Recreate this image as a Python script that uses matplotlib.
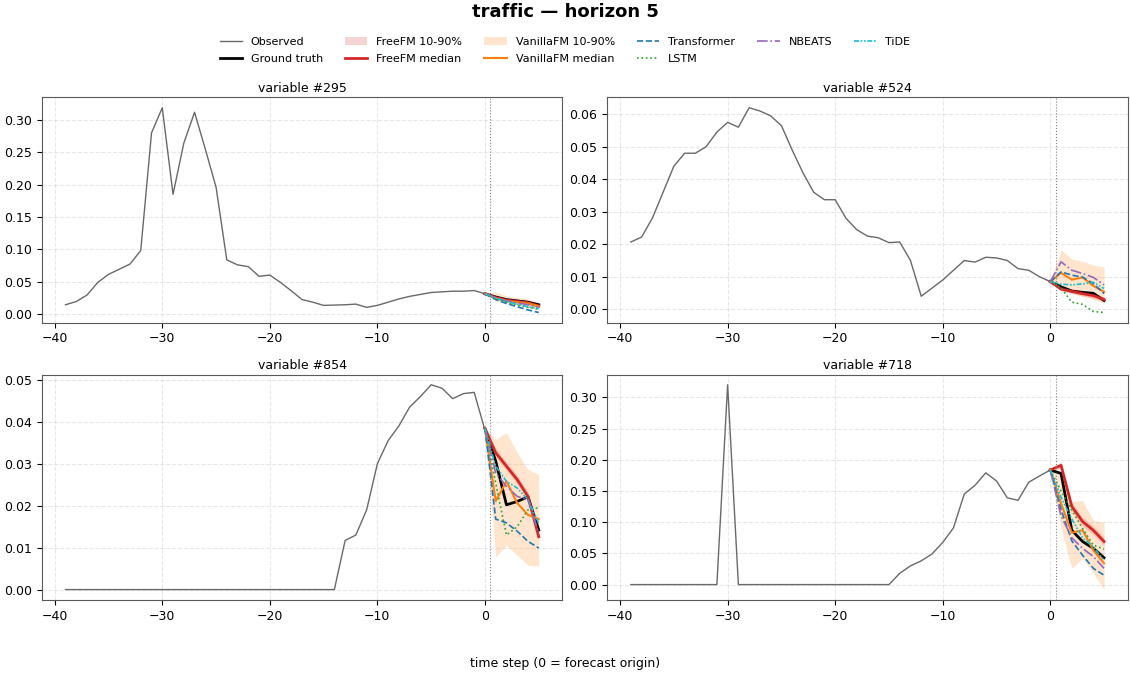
import matplotlib
matplotlib.use("Agg")
import matplotlib.pyplot as plt
import numpy as np

# time axes
t_obs = np.arange(-39, 1)
t_fc = np.arange(0, 6)

# ---- variable #295
obs_295 = [0.014, 0.019, 0.029, 0.0485, 0.061, 0.069, 0.077, 0.098, 0.280, 0.319,
           0.185, 0.264, 0.312, 0.255, 0.196, 0.0835, 0.0757, 0.073, 0.058, 0.060,
           0.0485, 0.0355, 0.022, 0.018, 0.013, 0.0135, 0.014, 0.015, 0.010, 0.013,
           0.018, 0.023, 0.027, 0.030, 0.033, 0.034, 0.035, 0.035, 0.036, 0.031]
gt_295 = [0.031, 0.026, 0.022, 0.020, 0.018, 0.014]
free_med_295 = [0.031, 0.025, 0.021, 0.019, 0.017, 0.012]
free_lo_295 = [0.031, 0.023, 0.019, 0.017, 0.015, 0.010]
free_hi_295 = [0.031, 0.027, 0.023, 0.021, 0.019, 0.014]
van_med_295 = [0.031, 0.024, 0.020, 0.018, 0.016, 0.012]
van_lo_295 = [0.031, 0.020, 0.016, 0.013, 0.010, 0.008]
van_hi_295 = [0.031, 0.034, 0.028, 0.025, 0.023, 0.018]
trans_295 = [0.031, 0.022, 0.016, 0.011, 0.006, 0.002]
lstm_295 = [0.031, 0.023, 0.018, 0.014, 0.010, 0.007]
nbeats_295 = [0.031, 0.025, 0.020, 0.017, 0.014, 0.010]
tide_295 = [0.031, 0.024, 0.019, 0.015, 0.011, 0.008]

# ---- variable #524
obs_524 = [0.0207, 0.0222, 0.028, 0.036, 0.044, 0.048, 0.048, 0.050, 0.0545, 0.0575,
           0.056, 0.062, 0.061, 0.0595, 0.0565, 0.049, 0.042, 0.036, 0.0337, 0.0337,
           0.028, 0.0245, 0.0225, 0.022, 0.0205, 0.0207, 0.015, 0.004, 0.0065, 0.009,
           0.012, 0.015, 0.0145, 0.016, 0.0158, 0.015, 0.0125, 0.012, 0.010, 0.0085]
gt_524 = [0.0085, 0.0069, 0.0056, 0.0052, 0.0049, 0.0027]
free_med_524 = [0.0085, 0.0062, 0.0055, 0.0048, 0.0042, 0.0030]
free_lo_524 = [0.0085, 0.0056, 0.0048, 0.0041, 0.0034, 0.0022]
free_hi_524 = [0.0085, 0.0068, 0.0062, 0.0055, 0.0050, 0.0038]
van_med_524 = [0.0085, 0.0112, 0.0091, 0.0098, 0.0072, 0.0054]
van_lo_524 = [0.0085, 0.0065, 0.0050, 0.0040, 0.0030, 0.0020]
van_hi_524 = [0.0085, 0.0183, 0.0154, 0.0148, 0.0136, 0.0130]
trans_524 = [0.0085, 0.0115, 0.0105, 0.0099, 0.0079, 0.0048]
lstm_524 = [0.0085, 0.0066, 0.0022, 0.0015, -0.0007, -0.0010]
nbeats_524 = [0.0085, 0.0146, 0.0120, 0.0110, 0.0098, 0.0075]
tide_524 = [0.0085, 0.0077, 0.0075, 0.0078, 0.0083, 0.0064]

# ---- variable #854
obs_854 = [0.0] * 26 + [0.0117, 0.013, 0.019, 0.030, 0.0355, 0.039, 0.0435, 0.046,
                        0.0488, 0.048, 0.0455, 0.0467, 0.047, 0.038]
gt_854 = [0.0384, 0.0306, 0.0202, 0.0210, 0.0221, 0.0142]
free_med_854 = [0.0384, 0.0326, 0.0294, 0.0262, 0.0222, 0.0126]
free_lo_854 = [0.0384, 0.0316, 0.0284, 0.0252, 0.0212, 0.0116]
free_hi_854 = [0.0384, 0.0336, 0.0304, 0.0272, 0.0232, 0.0136]
van_med_854 = [0.0384, 0.0211, 0.0258, 0.0206, 0.0178, 0.0168]
van_lo_854 = [0.0384, 0.0078, 0.0106, 0.0082, 0.0058, 0.0056]
van_hi_854 = [0.0384, 0.0358, 0.0374, 0.0326, 0.0286, 0.0274]
trans_854 = [0.0384, 0.0168, 0.0159, 0.0139, 0.0115, 0.0099]
lstm_854 = [0.0384, 0.0254, 0.0130, 0.0150, 0.0190, 0.0195]
nbeats_854 = [0.0384, 0.0278, 0.0246, 0.0222, 0.0214, 0.0134]
tide_854 = [0.0384, 0.0294, 0.0258, 0.0242, 0.0214, 0.0158]

# ---- variable #718
obs_718 = ([0.0] * 9 + [0.32] + [0.0] * 15 +
           [0.018, 0.030, 0.038, 0.049, 0.0675, 0.091, 0.145, 0.159, 0.179, 0.166,
            0.139, 0.135, 0.164, 0.174, 0.1835])
gt_718 = [0.1835, 0.178, 0.087, 0.069, 0.058, 0.043]
free_med_718 = [0.1835, 0.191, 0.125, 0.101, 0.087, 0.069]
free_lo_718 = [0.1835, 0.185, 0.118, 0.094, 0.080, 0.062]
free_hi_718 = [0.1835, 0.197, 0.132, 0.108, 0.094, 0.076]
van_med_718 = [0.1835, 0.130, 0.083, 0.087, 0.055, 0.034]
van_lo_718 = [0.1835, 0.090, 0.026, 0.042, 0.018, -0.008]
van_hi_718 = [0.1835, 0.175, 0.133, 0.135, 0.103, 0.100]
trans_718 = [0.1835, 0.120, 0.070, 0.047, 0.026, 0.015]
lstm_718 = [0.1835, 0.150, 0.119, 0.090, 0.063, 0.057]
nbeats_718 = [0.1835, 0.110, 0.075, 0.058, 0.045, 0.026]
tide_718 = [0.1835, 0.140, 0.105, 0.075, 0.060, 0.039]

panels = [
    ("variable #295", obs_295, gt_295, free_med_295, free_lo_295, free_hi_295,
     van_med_295, van_lo_295, van_hi_295, trans_295, lstm_295, nbeats_295, tide_295),
    ("variable #524", obs_524, gt_524, free_med_524, free_lo_524, free_hi_524,
     van_med_524, van_lo_524, van_hi_524, trans_524, lstm_524, nbeats_524, tide_524),
    ("variable #854", obs_854, gt_854, free_med_854, free_lo_854, free_hi_854,
     van_med_854, van_lo_854, van_hi_854, trans_854, lstm_854, nbeats_854, tide_854),
    ("variable #718", obs_718, gt_718, free_med_718, free_lo_718, free_hi_718,
     van_med_718, van_lo_718, van_hi_718, trans_718, lstm_718, nbeats_718, tide_718),
]

fig, axes = plt.subplots(2, 2, figsize=(11.3, 6.77), dpi=100)
fig.subplots_adjust(left=0.037, right=0.998, top=0.856, bottom=0.114,
                    wspace=0.086, hspace=0.23)

for ax, p in zip(axes.flat, panels):
    (title, obs, gt, fmed, flo, fhi, vmed, vlo, vhi, trans, lstm, nbeats, tide) = p
    ax.plot(t_obs, obs, color="dimgray", lw=1.0, label="Observed")
    ax.plot(t_fc, gt, color="black", lw=2.0, label="Ground truth")
    ax.fill_between(t_fc, flo, fhi, color="tab:red", alpha=0.2, lw=0, label="FreeFM 10-90%")
    ax.plot(t_fc, fmed, color="tab:red", lw=2.0, label="FreeFM median")
    ax.fill_between(t_fc, vlo, vhi, color="tab:orange", alpha=0.2, lw=0, label="VanillaFM 10-90%")
    ax.plot(t_fc, vmed, color="tab:orange", lw=1.5, label="VanillaFM median")
    ax.plot(t_fc, trans, color="tab:blue", lw=1.2, ls="--", label="Transformer")
    ax.plot(t_fc, lstm, color="tab:green", lw=1.2, ls=":", label="LSTM")
    ax.plot(t_fc, nbeats, color="tab:purple", lw=1.2, ls="-.", label="NBEATS")
    ax.plot(t_fc, tide, color="tab:cyan", lw=1.2, ls=(0, (3, 1, 1, 1, 1, 1)), label="TiDE")
    ax.axvline(0.5, color="gray", ls=":", lw=0.8)
    ax.grid(True, ls="--", alpha=0.3)
    ax.set_title(title, fontsize=9, pad=4)
    ax.tick_params(labelsize=9)
    for s in ax.spines.values():
        s.set_color("0.35")

handles, labels = axes[0, 0].get_legend_handles_labels()
fig.legend(handles, labels, loc="upper center", bbox_to_anchor=(0.5, 0.96),
           ncol=6, frameon=False, fontsize=8, labelspacing=0.6)
fig.suptitle("traffic — horizon 5", fontsize=13, fontweight="bold", y=0.995)
fig.supxlabel("time step (0 = forecast origin)", fontsize=9, y=0.01)

plt.savefig("out.png", dpi=100)
